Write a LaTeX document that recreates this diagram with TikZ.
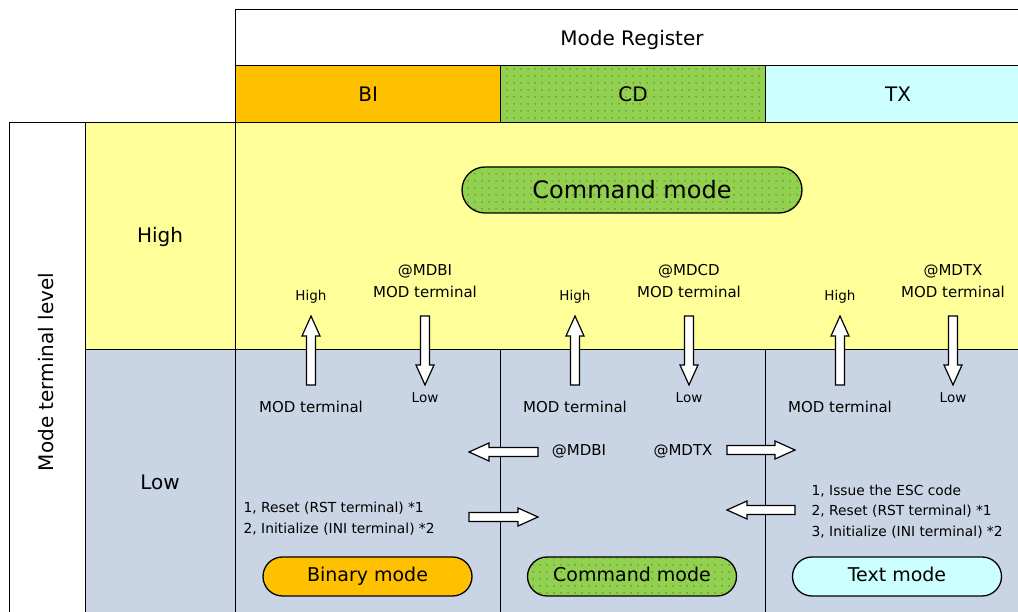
\documentclass[tikz,border=0pt]{standalone}
\usepackage{fontspec}
\setmainfont{DejaVu Sans}
\usetikzlibrary{patterns.meta}
\definecolor{hiyel}{HTML}{FFFF99}
\definecolor{lowblue}{HTML}{C9D5E5}
\definecolor{biorange}{HTML}{FFC000}
\definecolor{cdgreen}{HTML}{92D050}
\definecolor{txcyan}{HTML}{CCFFFF}
\begin{document}
\begin{tikzpicture}[x=1pt,y=1pt, line width=1.3pt,
  cell/.style={draw, rectangle, inner sep=0pt},
  dotfill/.style={fill=cdgreen, postaction={pattern={Dots[distance=6.5pt,radius=0.6pt]}, pattern color=black!85}},
  modebox/.style={draw, rectangle, rounded corners=19.5pt, minimum width=209pt, minimum height=39pt, inner sep=0pt, text height=14pt, text depth=3.5pt, font=\fontsize{19}{22}\selectfont},
  big/.style={font=\fontsize{20}{24}\selectfont},
  small/.style={font=\fontsize{13.5}{16}\selectfont},
  mid/.style={font=\fontsize{15}{22}\selectfont, align=center},
  note/.style={font=\fontsize{13.8}{20.5}\selectfont, align=left, anchor=west, inner sep=0pt},
  pics/barrow/.style={code={\draw[fill=white, line width=1.2pt] (0,-4.5) -- (#1-20,-4.5) -- (#1-20,-9) -- (#1,0) -- (#1-20,9) -- (#1-20,4.5) -- (0,4.5) -- cycle;}}
]
\useasboundingbox (0,0) rectangle (1018,612);
% header
\node[cell, big, minimum width=795pt, minimum height=56pt, anchor=south west] (modereg) at (235,546) {};
\node[big] (moderegtxt) at (632,572) {Mode Register};
\node[cell, big, fill=biorange, minimum width=265pt, minimum height=57pt, anchor=south west] (bi) at (235,489) {BI};
\node[cell, big, dotfill, minimum width=265pt, minimum height=57pt, anchor=south west] (cd) at (500,489) {CD};
\node[cell, big, fill=txcyan, minimum width=265pt, minimum height=57pt, anchor=south west] (tx) at (765,489) {TX};
% left column
\node[cell, fill=white, minimum width=76pt, minimum height=499pt, anchor=south west] (levelcol) at (9,-10) {};
\node[big, rotate=90] (leveltxt) at (46,240) {Mode terminal level};
\node[cell, big, fill=hiyel, minimum width=150pt, minimum height=227pt, anchor=south west] (highcell) at (85,262) {};
\node[big] (hightxt) at (160,375) {High};
\node[cell, big, fill=lowblue, minimum width=150pt, minimum height=272pt, anchor=south west] (lowcell) at (85,-10) {};
\node[big] (lowtxt) at (160,130) {Low};
% main areas
\node[cell, fill=hiyel, minimum width=795pt, minimum height=227pt, anchor=south west] (hiarea) at (235,262) {};
\node[cell, fill=lowblue, minimum width=265pt, minimum height=272pt, anchor=south west] (lowbi) at (235,-10) {};
\node[cell, fill=lowblue, minimum width=265pt, minimum height=272pt, anchor=south west] (lowcd) at (500,-10) {};
\node[cell, fill=lowblue, minimum width=265pt, minimum height=272pt, anchor=south west] (lowtx) at (765,-10) {};
% command mode (top)
\node[draw, rectangle, rounded corners=23pt, dotfill, minimum width=340pt, minimum height=46pt, inner sep=0pt, font=\fontsize{24}{28}\selectfont] (cmdtop) at (632,422) {Command mode};
% vertical arrows and labels
\foreach \u/\d/\nm/\lab in {311/425/bi/BI, 575/689/cd/CD, 840/953/tx/TX}{
  \pic[rotate=90] (up\nm) at (\u,227) {barrow=69};
  \pic[rotate=-90] (dn\nm) at (\d,296) {barrow=69};
  \node[small] (hi\nm) at (\u,315) {High};
  \node[mid] (at\nm) at (\d,331) {@MD\lab\\MOD terminal};
  \node[mid] (mod\nm) at (\u,205) {MOD terminal};
  \node[small] (lo\nm) at (\d,214) {Low};
}
% horizontal arrows
\pic[rotate=180] (toBI) at (538,160) {barrow=69};
\node[mid] (atmdbi) at (579,161) {@MDBI};
\node[mid] (atmdtx) at (683,161) {@MDTX};
\pic (toTX) at (727,162) {barrow=68};
\pic (fromBI) at (469,95) {barrow=69};
\pic[rotate=180] (fromTX) at (795,102) {barrow=68};
% notes
\node[note] (notebi) at (243,93.5) {1, Reset (RST terminal) *1\\2, Initialize (INI terminal) *2};
\node[note] (notetx) at (811,100.5) {1, Issue the ESC code\\2, Reset (RST terminal) *1\\3, Initialize (INI terminal) *2};
% bottom mode boxes
\node[modebox, fill=biorange] (binmode) at (367.5,35.5) {Binary mode};
\node[modebox, dotfill] (cmdmode) at (632,35.5) {Command mode};
\node[modebox, fill=txcyan] (txtmode) at (897,35.5) {Text mode};
\end{tikzpicture}
\end{document}
